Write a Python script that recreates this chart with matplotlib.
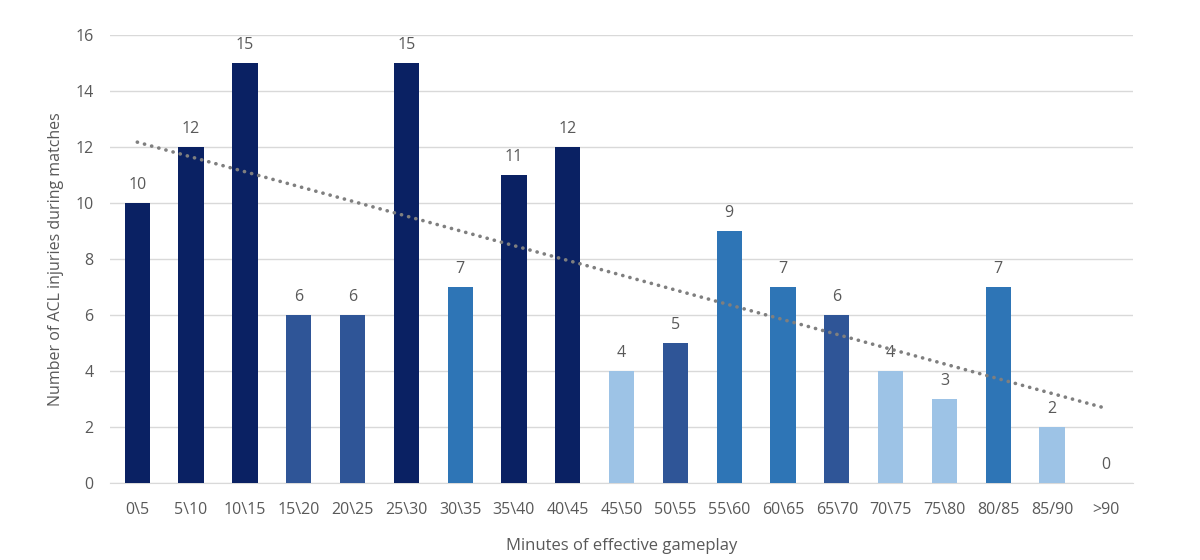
import numpy as np
import matplotlib
matplotlib.use('Agg')
from matplotlib import pyplot as plt

plt.rcParams['font.family'] = ['Open Sans', 'DejaVu Sans']

categories = ['0\\5', '5\\10', '10\\15', '15\\20', '20\\25', '25\\30', '30\\35',
              '35\\40', '40\\45', '45\\50', '50\\55', '55\\60', '60\\65', '65\\70',
              '70\\75', '75\\80', '80/85', '85/90', '>90']
injuries = [10, 12, 15, 6, 6, 15, 7, 11, 12, 4, 5, 9, 7, 6, 4, 3, 7, 2, 0]
shade = ['navy', 'navy', 'navy', 'mid', 'mid', 'navy', 'blue', 'navy', 'navy',
         'light', 'mid', 'blue', 'blue', 'mid', 'light', 'light', 'blue', 'light', 'light']
palette = {'navy': '#0A2163', 'mid': '#2F5597', 'blue': '#2E75B6', 'light': '#9DC3E6'}

text_col = '#595959'

fig = plt.figure(figsize=(12, 5.6), dpi=100)
ax = fig.add_axes([0.092, 0.1375, 0.852, 0.8])

x = np.arange(len(categories))
ax.bar(x, injuries, width=0.47, color=[palette[s] for s in shade], zorder=3)

for xi, v in zip(x, injuries):
    ax.text(xi, v + 0.35, str(v), ha='center', va='bottom', fontsize=11.5, color=text_col, zorder=4)

# linear trendline
k, b = np.polyfit(x, injuries, 1)
ax.plot(x, k * x + b, linestyle=(0, (0.05, 2.0)), linewidth=2.6, color='#7F7F7F', zorder=5,
        dash_capstyle='round')

ax.set_ylim(0, 16)
ax.set_xlim(-0.5, len(categories) - 0.5)
ax.set_yticks(range(0, 17, 2))
ax.set_xticks(x)
ax.set_xticklabels(categories)
ax.tick_params(axis='both', length=0, labelsize=11.5, colors=text_col)
ax.tick_params(axis='x', pad=14)
ax.tick_params(axis='y', pad=12)
ax.grid(axis='y', color='#D9D9D9', linewidth=1, zorder=0)
for s in ['top', 'right', 'left']:
    ax.spines[s].set_visible(False)
ax.spines['bottom'].set_color('#D9D9D9')

ax.set_xlabel('Minutes of effective gameplay', fontsize=12, color=text_col, labelpad=14)
ax.set_ylabel('Number of ACL injuries during matches', fontsize=11.5, color=text_col, labelpad=8)

fig.savefig('out.png', dpi=100)
